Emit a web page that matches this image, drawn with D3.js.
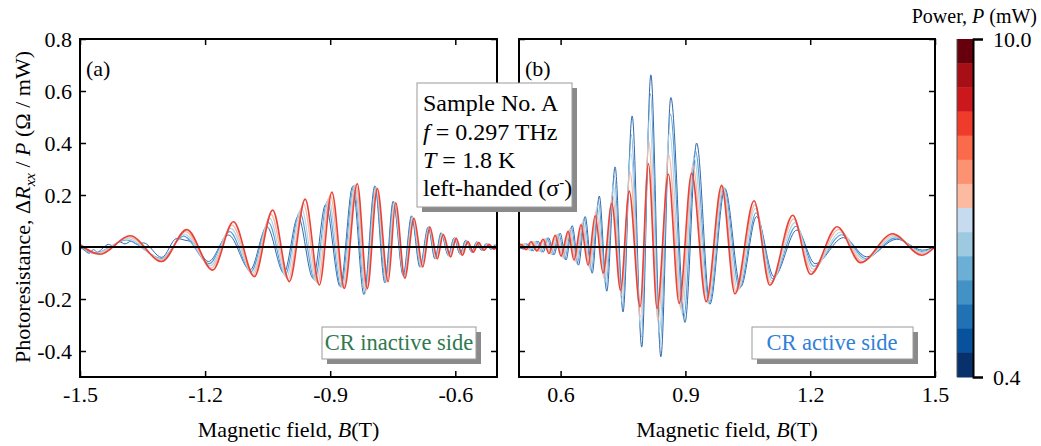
<!DOCTYPE html>
<html><head><meta charset="utf-8">
<script src="https://cdn.jsdelivr.net/npm/d3@7"></script>
<style>
body{margin:0;background:#fff}
svg{display:block}
text{font-family:"Liberation Serif","Times New Roman",serif;fill:#000}
</style>
</head><body>
<svg id="c" width="1041" height="446"></svg>
<script>
// ---------------- DATA ----------------
const yTicks = [-0.4, -0.2, 0, 0.2, 0.4, 0.6, 0.8];
const yTickLabels = ["-0.4", "-0.2", "0", "0.2", "0.4", "0.6", "0.8"];
const xTicksA = [-1.5, -1.2, -0.9, -0.6];
const xTickLabelsA = ["-1.5", "-1.2", "-0.9", "-0.6"];
const xTicksB = [0.6, 0.9, 1.2, 1.5];
const xTickLabelsB = ["0.6", "0.9", "1.2", "1.5"];
const powerRange = [0.4, 10.0];
const powerLabels = ["0.4", "10.0"];
const powerBins = [13, 12, 11, 10, 9, 8, 7, 6, 5, 4, 3, 2, 1, 0]; // top to bottom

// Panel (a): CR inactive side, extrema [B (T), dR/P (Ohm/mW)]
const aLow = [[-1.500,0.000],[-1.490,-0.012],[-1.478,-0.024],[-1.468,-0.010],[-1.458,-0.020],[-1.445,-0.004],[-1.432,0.010],[-1.420,0.004],[-1.405,0.020],[-1.392,0.012],[-1.378,0.022],[-1.362,0.010],[-1.348,0.016],[-1.304,-0.040],[-1.268,0.033],[-1.248,0.026],[-1.228,0.018],[-1.192,-0.056],[-1.144,0.046],[-1.092,-0.088],[-1.052,0.078],[-1.011,-0.100],[-0.977,0.117],[-0.941,-0.120],[-0.911,0.163],[-0.876,-0.152],[-0.846,0.233],[-0.819,-0.183],[-0.793,0.235],[-0.769,-0.137],[-0.749,0.176],[-0.725,-0.109],[-0.705,0.120],[-0.685,-0.077],[-0.665,0.077],[-0.649,-0.045],[-0.634,0.055],[-0.617,-0.032],[-0.603,0.035],[-0.589,-0.026],[-0.575,0.026],[-0.561,-0.019],[-0.549,0.019],[-0.537,-0.013],[-0.526,0.013],[-0.515,-0.009],[-0.505,0.008],[-0.500,0.000]];
const aMidLow = [[-1.500,0.002],[-1.466,-0.024],[-1.389,0.027],[-1.304,-0.044],[-1.252,0.042],[-1.190,-0.064],[-1.141,0.059],[-1.090,-0.095],[-1.048,0.094],[-1.008,-0.108],[-0.973,0.134],[-0.937,-0.127],[-0.907,0.175],[-0.874,-0.154],[-0.843,0.236],[-0.817,-0.177],[-0.792,0.233],[-0.767,-0.136],[-0.748,0.175],[-0.724,-0.112],[-0.704,0.118],[-0.683,-0.077],[-0.664,0.077],[-0.648,-0.045],[-0.633,0.053],[-0.616,-0.034],[-0.602,0.035],[-0.588,-0.028],[-0.574,0.025],[-0.560,-0.019],[-0.548,0.019],[-0.535,-0.013],[-0.524,0.012],[-0.513,-0.009],[-0.500,0.000]];
const aMid = [[-1.500,0.005],[-1.461,-0.025],[-1.386,0.032],[-1.304,-0.048],[-1.250,0.050],[-1.187,-0.072],[-1.138,0.072],[-1.087,-0.101],[-1.045,0.110],[-1.005,-0.117],[-0.969,0.150],[-0.934,-0.133],[-0.904,0.187],[-0.871,-0.156],[-0.841,0.238],[-0.815,-0.172],[-0.790,0.230],[-0.765,-0.135],[-0.746,0.173],[-0.723,-0.115],[-0.702,0.115],[-0.682,-0.077],[-0.663,0.077],[-0.646,-0.045],[-0.632,0.052],[-0.614,-0.035],[-0.601,0.034],[-0.586,-0.029],[-0.573,0.024],[-0.559,-0.020],[-0.547,0.018],[-0.534,-0.013],[-0.523,0.012],[-0.511,-0.009],[-0.500,0.000]];
const aMidHigh = [[-1.500,0.008],[-1.457,-0.027],[-1.383,0.038],[-1.304,-0.052],[-1.247,0.059],[-1.185,-0.081],[-1.135,0.084],[-1.085,-0.108],[-1.042,0.126],[-1.001,-0.125],[-0.964,0.167],[-0.930,-0.140],[-0.900,0.199],[-0.868,-0.157],[-0.838,0.241],[-0.813,-0.166],[-0.789,0.228],[-0.763,-0.134],[-0.745,0.172],[-0.722,-0.117],[-0.701,0.113],[-0.680,-0.077],[-0.662,0.077],[-0.645,-0.045],[-0.630,0.050],[-0.613,-0.037],[-0.599,0.034],[-0.585,-0.031],[-0.571,0.022],[-0.558,-0.020],[-0.545,0.018],[-0.532,-0.013],[-0.521,0.011],[-0.509,-0.008],[-0.500,0.000]];
const aHigh = [[-1.500,0.010],[-1.452,-0.028],[-1.380,0.043],[-1.304,-0.056],[-1.244,0.067],[-1.182,-0.089],[-1.132,0.097],[-1.082,-0.114],[-1.038,0.142],[-0.998,-0.133],[-0.960,0.184],[-0.926,-0.146],[-0.896,0.211],[-0.866,-0.159],[-0.835,0.243],[-0.811,-0.160],[-0.787,0.225],[-0.761,-0.133],[-0.743,0.170],[-0.721,-0.120],[-0.699,0.110],[-0.678,-0.077],[-0.661,0.077],[-0.643,-0.045],[-0.629,0.048],[-0.611,-0.038],[-0.598,0.033],[-0.583,-0.032],[-0.570,0.021],[-0.557,-0.020],[-0.544,0.017],[-0.531,-0.013],[-0.519,0.010],[-0.507,-0.008],[-0.500,0.000]];

// Panel (b): CR active side
const bLow = [[0.500,0.000],[0.512,-0.008],[0.522,0.012],[0.534,-0.015],[0.546,0.022],[0.558,-0.020],[0.571,0.035],[0.584,-0.030],[0.599,0.053],[0.613,-0.050],[0.628,0.082],[0.643,-0.070],[0.659,0.117],[0.676,-0.101],[0.693,0.196],[0.711,-0.170],[0.731,0.308],[0.750,-0.250],[0.772,0.504],[0.795,-0.385],[0.817,0.662],[0.841,-0.422],[0.865,0.575],[0.899,-0.290],[0.927,0.400],[0.959,-0.220],[0.995,0.225],[1.033,-0.153],[1.071,0.117],[1.113,-0.114],[1.168,0.065],[1.212,-0.064],[1.280,0.036],[1.336,-0.038],[1.408,0.030],[1.470,-0.012],[1.500,0.000]];
const bMidLow = [[0.500,0.001],[0.518,0.012],[0.530,-0.014],[0.542,0.022],[0.554,-0.019],[0.568,0.034],[0.581,-0.029],[0.596,0.051],[0.610,-0.046],[0.626,0.077],[0.640,-0.065],[0.657,0.109],[0.674,-0.093],[0.691,0.177],[0.709,-0.153],[0.729,0.273],[0.749,-0.229],[0.770,0.432],[0.794,-0.346],[0.816,0.590],[0.839,-0.376],[0.864,0.511],[0.896,-0.272],[0.924,0.371],[0.957,-0.218],[0.993,0.228],[1.030,-0.160],[1.070,0.132],[1.110,-0.122],[1.166,0.080],[1.209,-0.074],[1.276,0.047],[1.333,-0.044],[1.405,0.035],[1.469,-0.017],[1.500,0.000]];
const bMid = [[0.500,0.003],[0.514,0.011],[0.526,-0.013],[0.538,0.021],[0.551,-0.018],[0.565,0.033],[0.578,-0.028],[0.593,0.049],[0.607,-0.043],[0.623,0.071],[0.638,-0.060],[0.654,0.101],[0.671,-0.086],[0.688,0.158],[0.707,-0.135],[0.727,0.238],[0.747,-0.208],[0.769,0.360],[0.793,-0.308],[0.814,0.500],[0.837,-0.329],[0.862,0.440],[0.892,-0.254],[0.921,0.342],[0.955,-0.215],[0.991,0.231],[1.026,-0.167],[1.068,0.148],[1.108,-0.131],[1.163,0.094],[1.207,-0.085],[1.273,0.057],[1.329,-0.049],[1.403,0.041],[1.468,-0.022],[1.500,0.000]];
const bMidHigh = [[0.500,0.004],[0.509,0.011],[0.521,-0.011],[0.533,0.021],[0.547,-0.016],[0.561,0.031],[0.575,-0.026],[0.590,0.047],[0.604,-0.039],[0.621,0.066],[0.635,-0.055],[0.652,0.093],[0.669,-0.078],[0.686,0.139],[0.704,-0.118],[0.725,0.203],[0.746,-0.187],[0.767,0.287],[0.792,-0.269],[0.812,0.406],[0.834,-0.283],[0.860,0.354],[0.889,-0.235],[0.918,0.312],[0.952,-0.213],[0.989,0.234],[1.022,-0.174],[1.067,0.163],[1.105,-0.139],[1.160,0.108],[1.204,-0.095],[1.269,0.068],[1.325,-0.055],[1.400,0.046],[1.468,-0.027],[1.500,0.000]];
const bHigh = [[0.500,0.005],[0.505,0.010],[0.517,-0.010],[0.529,0.020],[0.543,-0.015],[0.558,0.030],[0.572,-0.025],[0.587,0.045],[0.601,-0.035],[0.618,0.060],[0.632,-0.050],[0.649,0.085],[0.666,-0.070],[0.683,0.120],[0.702,-0.100],[0.723,0.168],[0.744,-0.166],[0.765,0.215],[0.791,-0.230],[0.811,0.320],[0.832,-0.236],[0.859,0.280],[0.885,-0.217],[0.915,0.283],[0.950,-0.210],[0.987,0.237],[1.019,-0.180],[1.065,0.178],[1.103,-0.147],[1.158,0.122],[1.201,-0.105],[1.265,0.078],[1.321,-0.060],[1.398,0.051],[1.468,-0.032],[1.500,0.000]];

// ---------------- STYLE ----------------
const binColors = ["#08306b","#08519c","#2171b5","#4292c6","#6baed6","#9ecae1","#c6dbef","#fcbba1","#fc9272","#fb6a4a","#ef3b2c","#cb181d","#a50f15","#67000d"];
const curveStyles = [
  {color:"#2f69ad", w:1.0},
  {color:"#5b9fd2", w:1.1},
  {color:"#b4d4ea", w:1.2},
  {color:"#f9b7a0", w:1.3},
  {color:"#e8433a", w:1.6}
];
const FS = 22;

const svg = d3.select("#c");
const y = d3.scaleLinear().domain([-0.5, 0.8]).range([377, 39]);
const panels = [
  {x: d3.scaleLinear().domain([-1.5, -0.5]).range([80, 497]), series:[aLow,aMidLow,aMid,aMidHigh,aHigh], ticks:xTicksA, labels:xTickLabelsA, name:"(a)", yLabels:true},
  {x: d3.scaleLinear().domain([0.5, 1.5]).range([519, 935]), series:[bLow,bMidLow,bMid,bMidHigh,bHigh], ticks:xTicksB, labels:xTickLabelsB, name:"(b)", yLabels:false}
];

const defs = svg.append("defs");
panels.forEach((p, pi) => {
  const [x0, x1] = p.x.range();
  const [y1, y0] = y.range();
  defs.append("clipPath").attr("id", "clip" + pi).append("rect")
    .attr("x", x0).attr("y", y0).attr("width", x1 - x0).attr("height", y1 - y0);
  const g = svg.append("g");
  const cg = g.append("g").attr("clip-path", `url(#clip${pi})`);
  const line = d3.line().x(d => p.x(d[0])).y(d => y(d[1])).curve(d3.curveMonotoneX);
  p.series.forEach((s, si) => {
    cg.append("path").attr("d", line(s)).attr("fill", "none")
      .attr("stroke", curveStyles[si].color).attr("stroke-width", curveStyles[si].w)
      .attr("stroke-linejoin", "round");
  });
  cg.append("line").attr("x1", x0).attr("x2", x1).attr("y1", y(0)).attr("y2", y(0))
    .attr("stroke", "#000").attr("stroke-width", 2);

  const styleAxis = sel => {
    sel.select(".domain").remove();
    sel.selectAll(".tick line").attr("stroke", "#000").attr("stroke-width", 1.5);
    sel.selectAll(".tick text").attr("font-size", FS).attr("font-family", '"Liberation Serif",serif').attr("fill", "#000");
  };
  g.append("g").attr("transform", `translate(${x0},0)`)
    .call(d3.axisLeft(y).tickValues(yTicks).tickSize(-6).tickPadding(8)
      .tickFormat((d, i) => p.yLabels ? yTickLabels[i] : ""))
    .call(styleAxis);
  g.append("g").attr("transform", `translate(${x1},0)`)
    .call(d3.axisRight(y).tickValues(yTicks).tickSize(-6).tickFormat(""))
    .call(styleAxis);
  g.append("g").attr("transform", `translate(0,${y1})`)
    .call(d3.axisBottom(p.x).tickValues(p.ticks).tickSize(-6).tickPadding(9)
      .tickFormat((d, i) => p.labels[i]))
    .call(styleAxis);
  g.append("g").attr("transform", `translate(0,${y0})`)
    .call(d3.axisTop(p.x).tickValues(p.ticks).tickSize(-6).tickFormat(""))
    .call(styleAxis);
  g.append("rect").attr("x", x0).attr("y", y0).attr("width", x1 - x0).attr("height", y1 - y0)
    .attr("fill", "none").attr("stroke", "#000").attr("stroke-width", 2);
  g.append("text").attr("x", x0 + 6).attr("y", 76).attr("font-size", FS).text(p.name);
  const xt = g.append("text").attr("x", (x0 + x1) / 2).attr("y", 437)
    .attr("text-anchor", "middle").attr("font-size", FS);
  xt.append("tspan").text("Magnetic field, ");
  xt.append("tspan").attr("font-style", "italic").text("B");
  xt.append("tspan").text("(T)");
});

// Y title
const yt = svg.append("text").attr("transform", "translate(30,207) rotate(-90)")
  .attr("text-anchor", "middle").attr("font-size", FS);
yt.append("tspan").text("Photoresistance, \u0394");
yt.append("tspan").attr("font-style", "italic").text("R");
yt.append("tspan").attr("font-style", "italic").attr("font-size", 15).attr("dy", 5).text("xx");
yt.append("tspan").attr("dy", -5).text(" / ");
yt.append("tspan").attr("font-style", "italic").text("P");
yt.append("tspan").text(" (\u03A9 / mW)");

// Boxes with shadows
function shadowBox(x, yy, w, h) {
  svg.append("rect").attr("x", x + 5).attr("y", yy + 5).attr("width", w).attr("height", h).attr("fill", "#8a8a8a");
  svg.append("rect").attr("x", x).attr("y", yy).attr("width", w).attr("height", h)
    .attr("fill", "#fff").attr("stroke", "#9a9a9a").attr("stroke-width", 1);
}
shadowBox(417, 83, 155, 124);
const bx = 423, bfs = 24;
svg.append("text").attr("x", bx).attr("y", 111).attr("font-size", bfs).text("Sample No. A");
const t2 = svg.append("text").attr("x", bx).attr("y", 140).attr("font-size", bfs);
t2.append("tspan").attr("font-style", "italic").text("f");
t2.append("tspan").text(" = 0.297 THz");
const t3 = svg.append("text").attr("x", bx).attr("y", 168).attr("font-size", bfs);
t3.append("tspan").attr("font-style", "italic").text("T");
t3.append("tspan").text(" = 1.8 K");
const t4 = svg.append("text").attr("x", bx).attr("y", 196).attr("font-size", bfs);
t4.append("tspan").text("left-handed (\u03C3");
t4.append("tspan").attr("font-size", 15).attr("dy", -9).text("-");
t4.append("tspan").attr("dy", 9).text(")");

shadowBox(322, 327, 154, 32);
svg.append("text").attr("x", 399).attr("y", 350).attr("text-anchor", "middle").attr("font-size", 22.5)
  .style("fill", "#2e7a4e").text("CR inactive side");
shadowBox(752, 327, 161, 32);
svg.append("text").attr("x", 832).attr("y", 350).attr("text-anchor", "middle").attr("font-size", 22.5)
  .style("fill", "#2f80d8").text("CR active side");

// Colorbar
const cbX = 957, cbW = 16;
const band = d3.scaleBand().domain(powerBins).range([39, 377]).paddingInner(0);
svg.append("g").selectAll("rect").data(powerBins).join("rect")
  .attr("x", cbX).attr("y", d => band(d)).attr("width", cbW).attr("height", band.bandwidth() + 0.5)
  .attr("fill", d => binColors[d]);
svg.append("line").attr("x1", cbX).attr("x2", cbX).attr("y1", 39).attr("y2", 377).attr("stroke", "#555").attr("stroke-width", 1);
const cScale = d3.scaleLinear().domain(powerRange).range([377, 39]);
const cAxis = svg.append("g").attr("transform", `translate(${cbX + cbW},0)`)
  .call(d3.axisRight(cScale).tickValues(powerRange).tickSize(10).tickSizeOuter(10).tickPadding(10)
    .tickFormat((d, i) => powerLabels[i]));
cAxis.select(".domain").attr("stroke", "#000").attr("stroke-width", 2);
cAxis.selectAll(".tick line").attr("stroke", "#000").attr("stroke-width", 2);
cAxis.selectAll(".tick text").attr("font-size", FS).attr("font-family", '"Liberation Serif",serif').attr("fill", "#000");
const ct = svg.append("text").attr("x", 1037).attr("y", 23).attr("text-anchor", "end").attr("font-size", 20);
ct.append("tspan").text("Power, ");
ct.append("tspan").attr("font-style", "italic").text("P");
ct.append("tspan").text(" (mW)");
</script>
</body></html>
